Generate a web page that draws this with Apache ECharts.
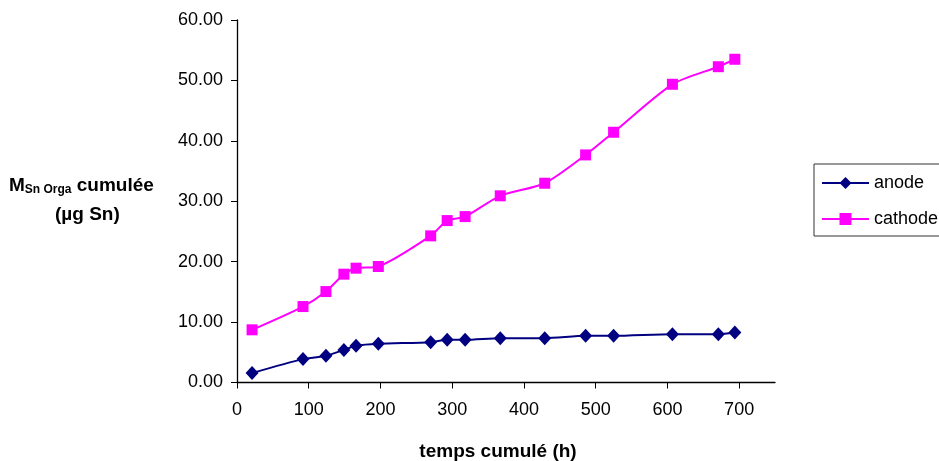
<!DOCTYPE html>
<html>
<head>
<meta charset="utf-8">
<script src="https://cdn.jsdelivr.net/npm/echarts@6/dist/echarts.min.js"></script>
<style>html,body{margin:0;padding:0;background:#fff;}#c{width:939px;height:461px;}</style>
</head>
<body>
<div id="c"></div>
<script>
const hours = [21, 92, 124, 149, 166, 197, 270, 293, 318, 367, 429, 486, 525, 607, 671, 694];
const anode = [1.56, 3.87, 4.42, 5.40, 6.07, 6.40, 6.68, 7.06, 7.06, 7.34, 7.34, 7.72, 7.72, 8.00, 8.00, 8.27];
const cathode = [8.72, 12.57, 15.05, 17.93, 18.92, 19.20, 24.27, 26.80, 27.46, 30.90, 32.98, 37.67, 41.42, 49.36, 52.27, 53.50];
const seriesNames = ['anode', 'cathode'];
const xTicks = [0, 100, 200, 300, 400, 500, 600, 700];
const xTitle = 'temps cumulé (h)';

const font = 'Liberation Sans, Arial, sans-serif';
const chart = echarts.init(document.getElementById('c'));
chart.setOption({
  animation: false,
  backgroundColor: '#fff',
  grid: { left: 237, right: 164, top: 20, bottom: 78.5, containLabel: false, outerBoundsMode: 'none' },
  xAxis: {
    type: 'value', min: 0, max: 750, interval: 100,
    name: xTitle, nameLocation: 'middle', nameGap: 60,
    nameTextStyle: { fontFamily: font, fontWeight: 'bold', fontSize: 19, color: '#000', padding: [0, 16, 0, 0] },
    axisLine: { lineStyle: { color: '#000', width: 1.3 } },
    axisTick: { show: true, length: 6, lineStyle: { color: '#000' }, customValues: xTicks },
    axisLabel: { color: '#000', fontFamily: font, fontSize: 18, margin: 19, customValues: xTicks },
    splitLine: { show: false }
  },
  yAxis: {
    type: 'value', min: 0, max: 60, interval: 10,
    axisLine: { show: true, lineStyle: { color: '#000', width: 1.3 } },
    axisTick: { show: true, length: 6, lineStyle: { color: '#000' } },
    axisLabel: { color: '#000', fontFamily: font, fontSize: 18, margin: 14,
      formatter: v => v.toFixed(2) },
    splitLine: { show: false }
  },
  legend: {
    orient: 'vertical', left: 814, top: 164,
    itemWidth: 47, itemHeight: 15, itemGap: 18,
    padding: [10, 30, 8, 7],
    borderColor: '#333', borderWidth: 1,
    textStyle: { fontFamily: font, fontSize: 18, color: '#000' },
    data: seriesNames
  },
  graphic: [
    { type: 'text', left: 9, top: 176, style: {
      rich: {
        b: { fontFamily: font, fontWeight: 'bold', fontSize: 19, fill: '#000' },
        s: { fontFamily: font, fontWeight: 'bold', fontSize: 12, fill: '#000', padding: [9, 0, 0, 0] }
      },
      text: '{b|M}{s|Sn Orga}{b| cumulée}' } },
    { type: 'text', left: 55, top: 205, style: { text: '(µg Sn)', fontFamily: font, fontWeight: 'bold', fontSize: 19, fill: '#000' } }
  ],
  series: [
    { name: seriesNames[0], type: 'line', smooth: 0.25,
      data: hours.map((h, i) => [h, anode[i]]),
      symbol: 'diamond', symbolSize: [13, 14],
      itemStyle: { color: '#000080' }, lineStyle: { color: '#000080', width: 2 } },
    { name: seriesNames[1], type: 'line', smooth: 0.25,
      data: hours.map((h, i) => [h, cathode[i]]),
      symbol: 'rect', symbolSize: 11,
      itemStyle: { color: '#FF00FF' }, lineStyle: { color: '#FF00FF', width: 2 } }
  ]
});
</script>
</body>
</html>
